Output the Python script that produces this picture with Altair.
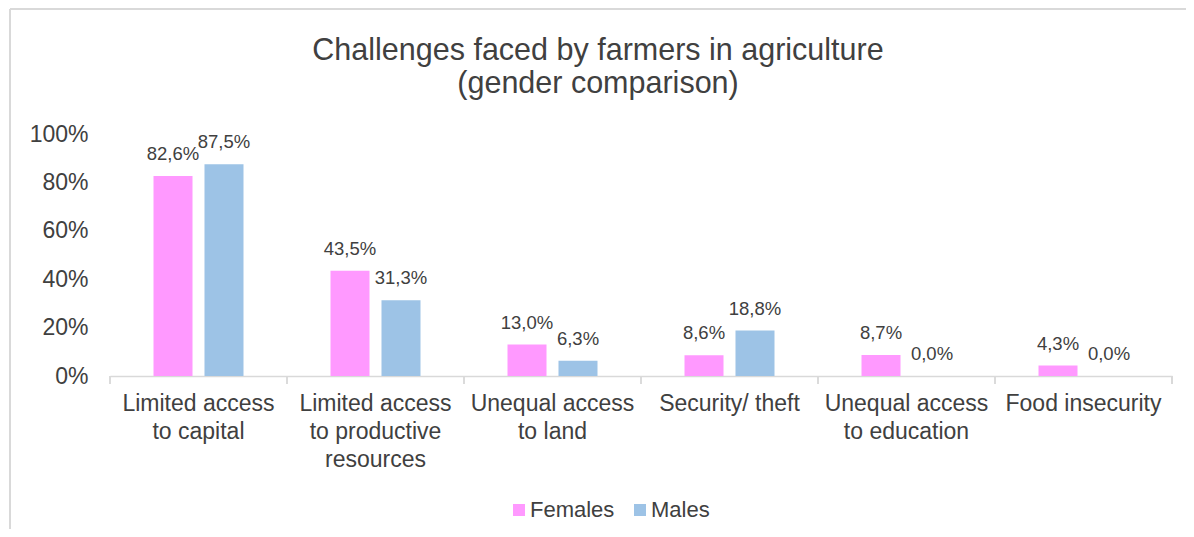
import altair as alt
import pandas as pd

# ---- data ----
CATEGORIES = [
    "Limited access|to capital",
    "Limited access|to productive|resources",
    "Unequal access|to land",
    "Security/ theft",
    "Unequal access|to education",
    "Food insecurity",
]
GENDERS = ["Females", "Males"]
FEMALES = [82.6, 43.5, 13.0, 8.6, 8.7, 4.3]
MALES = [87.5, 31.3, 6.3, 18.8, 0.0, 0.0]
Y_TICKS = [0, 20, 40, 60, 80, 100]
TITLE = ["Challenges faced by farmers in agriculture", "(gender comparison)"]
COLORS = ["#FF99FF", "#9DC3E6"]

rows = []
for c, f, m in zip(CATEGORIES, FEMALES, MALES):
    for g, v in (("Females", f), ("Males", m)):
        rows.append({"category": c, "gender": g, "value": v,
                     "label": f"{v:.1f}%".replace(".", ",")})
df = pd.DataFrame(rows)

FONT = "Liberation Sans"
TXT = "#404040"
W, H = 1062, 242

x_enc = alt.X(
    "category:N", sort=CATEGORIES,
    scale=alt.Scale(paddingInner=0, paddingOuter=0),
    axis=alt.Axis(title=None, labelAngle=0, ticks=False,
                  labelExpr="split(datum.label, '|')",
                  domainColor="#D9D9D9", domainWidth=1.5,
                  labelFont=FONT, labelFontSize=23, labelColor=TXT,
                  labelPadding=16, labelLineHeight=28, labelLimit=0),
)
xo_enc = alt.XOffset("gender:N", sort=GENDERS,
                     scale=alt.Scale(paddingInner=0.235, paddingOuter=0.853))
y_enc = alt.Y(
    "value:Q", scale=alt.Scale(domain=[0, 100]),
    axis=alt.Axis(title=None, values=Y_TICKS, labelExpr="datum.value + '%'",
                  grid=False, domain=False, ticks=False,
                  labelFont=FONT, labelFontSize=23, labelColor=TXT,
                  labelPadding=22),
)

base = alt.Chart(df)

bars = base.mark_bar().encode(
    x=x_enc, xOffset=xo_enc, y=y_enc,
    color=alt.Color("gender:N", sort=GENDERS,
                    scale=alt.Scale(domain=GENDERS, range=COLORS),
                    legend=alt.Legend(title=None, orient="none",
                                      direction="horizontal",
                                      legendX=398, legendY=365,
                                      symbolType="square", symbolSize=144,
                                      symbolStrokeWidth=0,
                                      labelFont=FONT, labelFontSize=22,
                                      labelColor=TXT, labelOffset=0,
                                      columnPadding=14)),
)

labels = base.mark_text(dy=-22, baseline="middle", font=FONT,
                        fontSize=18.5, color=TXT).encode(
    x=x_enc, xOffset=xo_enc, y=y_enc, text="label:N")

ticks = base.mark_rule(color="#D9D9D9", strokeWidth=1.5).encode(
    x=alt.X("category:N", sort=CATEGORIES, bandPosition=0),
    y=alt.value(H), y2=alt.value(H + 8))
end_tick = base.mark_rule(color="#D9D9D9", strokeWidth=1.5).encode(
    x=alt.value(W), y=alt.value(H), y2=alt.value(H + 8))

border_left = base.mark_rule(color="#D9D9D9", strokeWidth=2).encode(
    x=alt.value(-100), y=alt.value(-125), y2=alt.value(400))
border_top = base.mark_rule(color="#D9D9D9", strokeWidth=2).encode(
    x=alt.value(-100), x2=alt.value(1076), y=alt.value(-125))

chart = alt.layer(border_left, border_top, bars, labels, ticks, end_tick).properties(
    width=W, height=H,
    padding={"left": 102, "top": 126, "right": 14, "bottom": 153},
    autosize=alt.AutoSizeParams(type="none"),
    title=alt.TitleParams(text=TITLE, font=FONT, fontSize=30.5, lineHeight=33,
                          fontWeight="normal", color=TXT, anchor="middle",
                          frame="bounds", offset=-91),
).configure_view(stroke=None)

chart.save("out.html", embed_options={"renderer": "svg", "actions": False})
